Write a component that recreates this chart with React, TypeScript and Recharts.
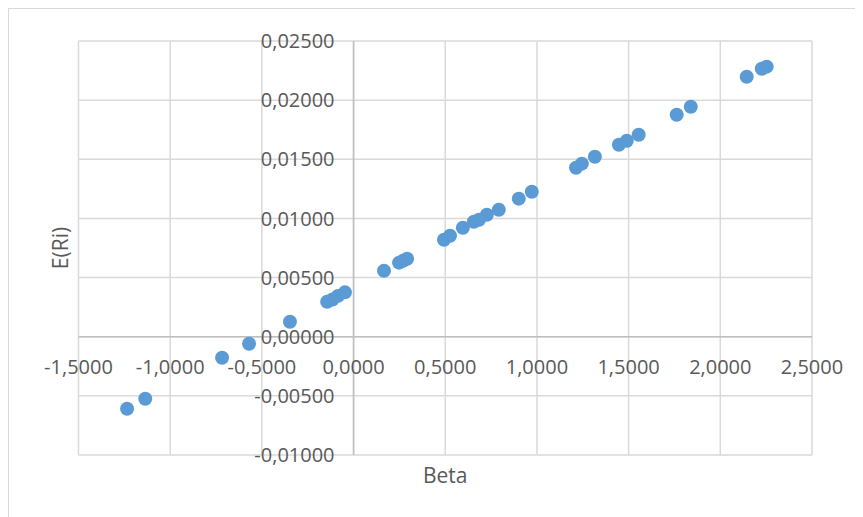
import {
  ScatterChart,
  Scatter,
  XAxis,
  YAxis,
  CartesianGrid,
  ReferenceLine,
  ReferenceDot,
  Label,
} from "recharts";

// beta of each asset and its expected return E(Ri)
const betaValues = [
  -1.235, -1.136, -0.717, -0.57, -0.347, -0.144, -0.115, -0.085, -0.047,
  0.166, 0.248, 0.27, 0.292, 0.493, 0.526, 0.596, 0.656, 0.684, 0.727, 0.792,
  0.901, 0.972, 1.213, 1.245, 1.316, 1.447, 1.49, 1.555, 1.762, 1.839, 2.144,
  2.226, 2.253,
];
const expectedReturns = [
  -0.00609, -0.00524, -0.00178, -0.00059, 0.00127, 0.00296, 0.00315, 0.00345,
  0.00375, 0.00558, 0.00626, 0.00642, 0.00659, 0.0082, 0.00854, 0.00921,
  0.00972, 0.00989, 0.01031, 0.01074, 0.01167, 0.01226, 0.01429, 0.01463,
  0.01522, 0.01623, 0.01657, 0.01708, 0.01877, 0.01944, 0.02198, 0.02266,
  0.02283,
];

const xTicks = [-1.5, -1, -0.5, 0, 0.5, 1, 1.5, 2, 2.5];
const yTicks = [-0.01, -0.005, 0, 0.005, 0.01, 0.015, 0.02, 0.025];

const data = betaValues.map((b, i) => ({ beta: b, ret: expectedReturns[i] }));

const fmt = (v: number, digits: number) => v.toFixed(digits).replace(".", ",");

const FONT = "'Open Sans', sans-serif";
const TEXT = "#595959";
const tickStyle = { fontFamily: FONT, fontSize: 20, fill: TEXT };

// axis tick labels are drawn at the zero lines instead, so the axis ticks stay empty
const NoTick = () => <g />;

const Dot = (props: any) => (
  <circle cx={props.cx} cy={props.cy} r={7} fill="#5b9bd5" />
);

export default function App() {
  return (
    <div
      style={{
        width: 854,
        height: 508,
        border: "1px solid #d9d9d9",
        background: "#fff",
      }}
    >
      <ScatterChart
        width={854}
        height={508}
        margin={{ top: 32, right: 51, left: 0, bottom: 0 }}
      >
        <CartesianGrid stroke="#d9d9d9" strokeWidth={1.5} />
        <XAxis
          type="number"
          dataKey="beta"
          domain={[-1.5, 2.5]}
          ticks={xTicks}
          tick={NoTick}
          axisLine={false}
          tickLine={false}
          height={62}
        >
          <Label
            value="Beta"
            position="insideTop"
            offset={13}
            style={{ fontFamily: FONT, fontSize: 21, fill: TEXT }}
          />
        </XAxis>
        <YAxis
          type="number"
          dataKey="ret"
          domain={[-0.01, 0.025]}
          ticks={yTicks}
          tick={NoTick}
          axisLine={false}
          tickLine={false}
          width={69.5}
        >
          <Label
            value="E(Ri)"
            angle={-90}
            position="center"
            dx={17}
            style={{ fontFamily: FONT, fontSize: 21, fill: TEXT }}
          />
        </YAxis>
        <ReferenceLine x={0} stroke="#bfbfbf" strokeWidth={1.5} />
        <ReferenceLine y={0} stroke="#bfbfbf" strokeWidth={1.5} />
        {xTicks.map((t) => (
          <ReferenceDot
            key={"x" + t}
            x={t}
            y={0}
            r={1}
            fill="none"
            stroke="none"
            label={{ value: fmt(t, 4), position: "bottom", offset: 22, style: tickStyle }}
          />
        ))}
        {yTicks.map((t) => (
          <ReferenceDot
            key={"y" + t}
            x={0}
            y={t}
            r={1}
            fill="none"
            stroke="none"
            label={{ value: fmt(t, 5), position: "left", offset: 18, style: tickStyle }}
          />
        ))}
        <Scatter data={data} shape={Dot} isAnimationActive={false} />
      </ScatterChart>
    </div>
  );
}
